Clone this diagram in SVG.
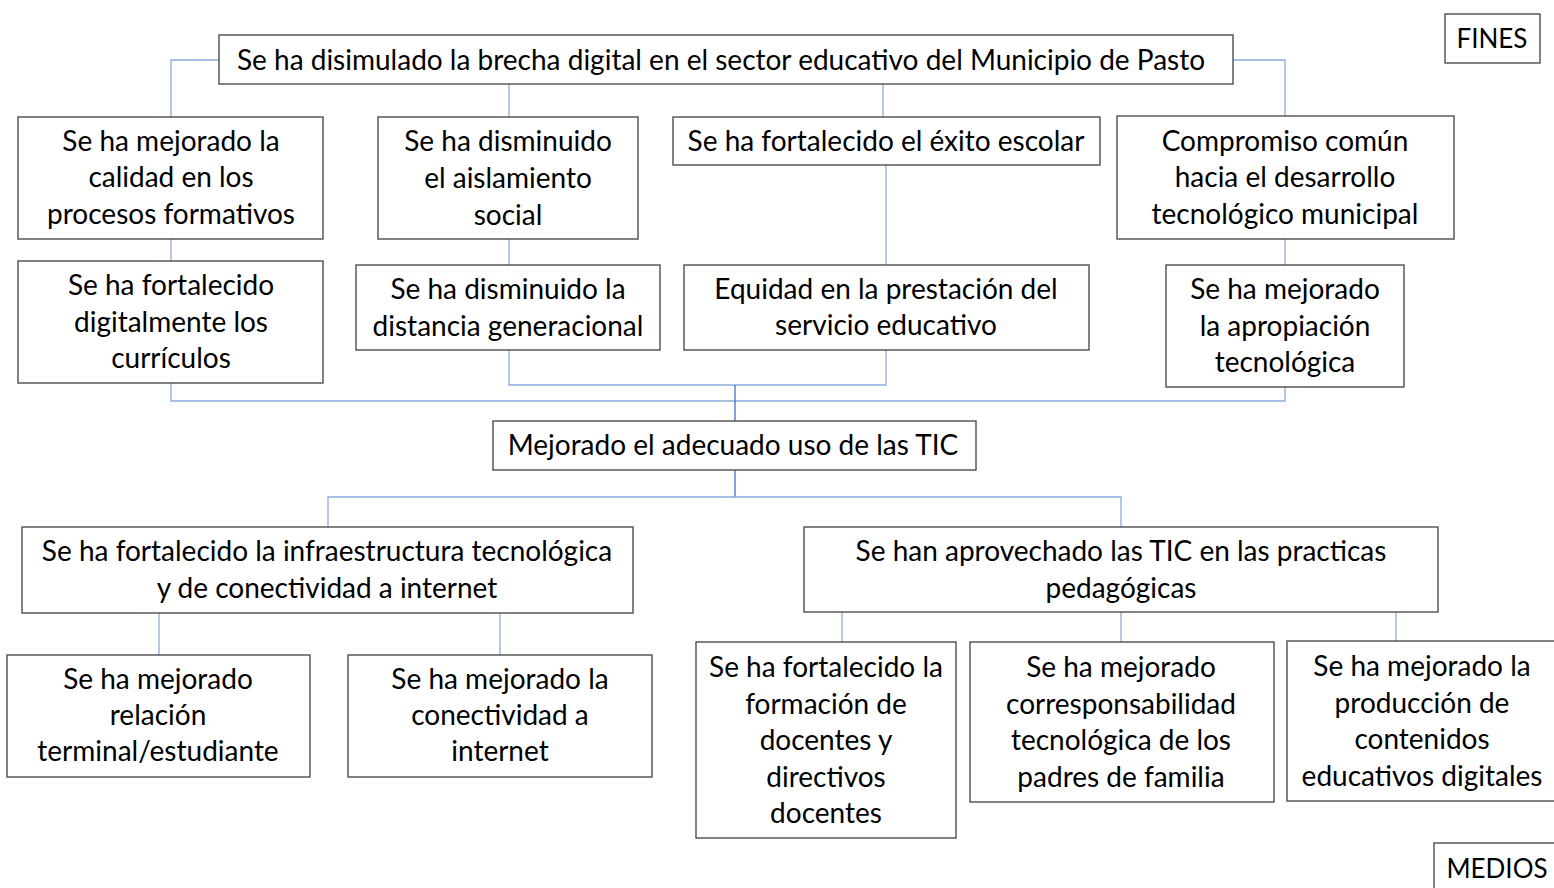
<svg xmlns="http://www.w3.org/2000/svg" width="1554" height="888" viewBox="0 0 1554 888">
<style>
.b{fill:#fff;stroke:#404040;stroke-width:1.3}
.t{font-family:Lato,"Liberation Sans",sans-serif;font-size:28px;fill:#000;text-anchor:middle}
.s{font-size:26px}
.c{fill:none;stroke:#8faadc;stroke-width:1.3}
.d{fill:none;stroke:#4472c4;stroke-width:1.3}
</style>
<rect width="1554" height="888" fill="#fff"/>
<g id="connectors">
<path class="c" d="M219,60H171V117"/>
<path class="c" d="M509,84V117"/>
<path class="c" d="M883,84V117"/>
<path class="c" d="M1233,60H1285V116"/>
<path class="c" d="M171,239V261"/>
<path class="c" d="M509,239V265"/>
<path class="c" d="M886,165V265"/>
<path class="c" d="M1285,239V265"/>
<path class="c" d="M509,350V385H886V350"/>
<path class="c" d="M171,383V401H1285V387"/>
<path class="d" d="M735,385V421"/>
<path class="d" d="M735,470V497"/>
<path class="c" d="M328,527V497H1121V527"/>
<path class="c" d="M159,613V655"/>
<path class="c" d="M500,613V655"/>
<path class="c" d="M842,612V642"/>
<path class="c" d="M1121,612V642"/>
<path class="c" d="M1396,612V642"/>
</g>
<g id="fines"><rect class="b" x="1445" y="14" width="95" height="49"/><text class="t s" x="1492" y="48">FINES</text></g>
<g id="top"><rect class="b" x="219" y="35" width="1014" height="49"/><text class="t" x="721" y="70">Se ha disimulado la brecha digital en el sector educativo del Municipio de Pasto</text></g>
<g id="n1a"><rect class="b" x="18" y="117" width="305" height="122"/><text class="t" x="171" y="151">Se ha mejorado la</text><text class="t" x="171" y="187">calidad en los</text><text class="t" x="171" y="224">procesos formativos</text></g>
<g id="n1b"><rect class="b" x="378" y="117" width="260" height="122"/><text class="t" x="508" y="151">Se ha disminuido</text><text class="t" x="508" y="188">el aislamiento</text><text class="t" x="508" y="225">social</text></g>
<g id="n1c"><rect class="b" x="673" y="117" width="427" height="48"/><text class="t" x="886" y="151">Se ha fortalecido el éxito escolar</text></g>
<g id="n1d"><rect class="b" x="1117" y="116" width="337" height="123"/><text class="t" x="1285" y="151">Compromiso común</text><text class="t" x="1285" y="187">hacia el desarrollo</text><text class="t" x="1285" y="224">tecnológico municipal</text></g>
<g id="n2a"><rect class="b" x="18" y="261" width="305" height="122"/><text class="t" x="171" y="295">Se ha fortalecido</text><text class="t" x="171" y="332">digitalmente los</text><text class="t" x="171" y="368">currículos</text></g>
<g id="n2b"><rect class="b" x="356" y="265" width="304" height="85"/><text class="t" x="508" y="299">Se ha disminuido la</text><text class="t" x="508" y="336">distancia generacional</text></g>
<g id="n2c"><rect class="b" x="684" y="265" width="405" height="85"/><text class="t" x="886" y="299">Equidad en la prestación del</text><text class="t" x="886" y="335">servicio educativo</text></g>
<g id="n2d"><rect class="b" x="1166" y="265" width="238" height="122"/><text class="t" x="1285" y="299">Se ha mejorado</text><text class="t" x="1285" y="336">la apropiación</text><text class="t" x="1285" y="372">tecnológica</text></g>
<g id="mid"><rect class="b" x="493" y="421" width="483" height="49"/><text class="t" x="733" y="455">Mejorado el adecuado uso de las TIC</text></g>
<g id="m1"><rect class="b" x="22" y="527" width="611" height="86"/><text class="t" x="327" y="561">Se ha fortalecido la infraestructura tecnológica</text><text class="t" x="327" y="598">y de conectividad a internet</text></g>
<g id="m2"><rect class="b" x="804" y="527" width="634" height="85"/><text class="t" x="1121" y="561">Se han aprovechado las TIC en las practicas</text><text class="t" x="1121" y="598">pedagógicas</text></g>
<g id="m1a"><rect class="b" x="7" y="655" width="303" height="122"/><text class="t" x="158" y="689">Se ha mejorado</text><text class="t" x="158" y="725">relación</text><text class="t" x="158" y="761">terminal/estudiante</text></g>
<g id="m1b"><rect class="b" x="348" y="655" width="304" height="122"/><text class="t" x="500" y="689">Se ha mejorado la</text><text class="t" x="500" y="725">conectividad a</text><text class="t" x="500" y="761">internet</text></g>
<g id="m2a"><rect class="b" x="696" y="642" width="260" height="196"/><text class="t" x="826" y="677">Se ha fortalecido la</text><text class="t" x="826" y="714">formación de</text><text class="t" x="826" y="750">docentes y</text><text class="t" x="826" y="787">directivos</text><text class="t" x="826" y="823">docentes</text></g>
<g id="m2b"><rect class="b" x="970" y="642" width="304" height="160"/><text class="t" x="1121" y="677">Se ha mejorado</text><text class="t" x="1121" y="714">corresponsabilidad</text><text class="t" x="1121" y="750">tecnológica de los</text><text class="t" x="1121" y="787">padres de familia</text></g>
<g id="m2c"><rect class="b" x="1287" y="641" width="270" height="160"/><text class="t" x="1422" y="676">Se ha mejorado la</text><text class="t" x="1422" y="713">producción de</text><text class="t" x="1422" y="749">contenidos</text><text class="t" x="1422" y="786">educativos digitales</text></g>
<g id="medios"><rect class="b" x="1434" y="843" width="125" height="50"/><text class="t s" x="1497" y="878">MEDIOS</text></g>
</svg>
